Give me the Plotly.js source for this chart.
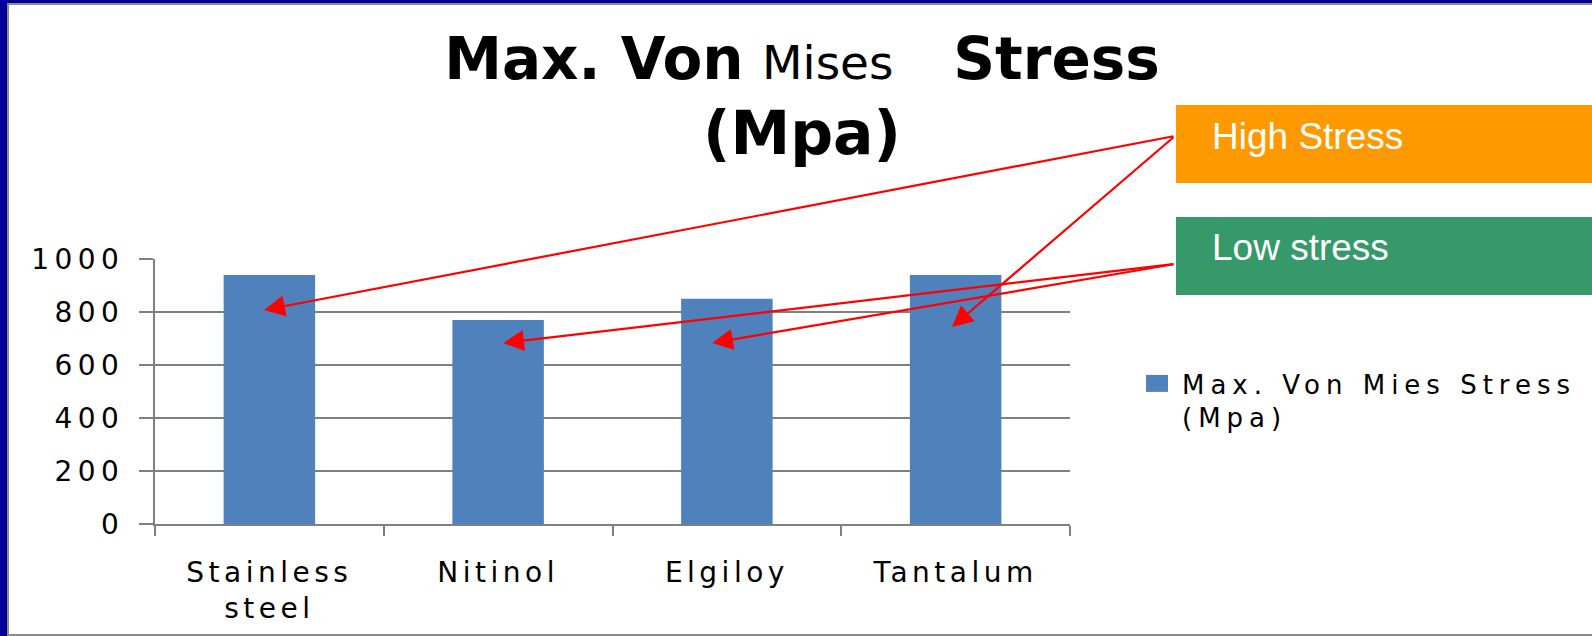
<!DOCTYPE html>
<html>
<head>
<meta charset="utf-8">
<script src="https://cdn.plot.ly/plotly-3.0.1.min.js"></script>
<style>
  html, body { margin: 0; padding: 0; background: #ffffff; }
  #chart { width: 1592px; height: 636px; }
  .xtick text { letter-spacing: 4.5px; }
  .ytick text { letter-spacing: 5.5px; }
  .legendtext { letter-spacing: 6px; }
</style>
</head>
<body>
<div id="chart"></div>
<script>
// ---------------- data ----------------
const categories = ['Stainless<br>steel', 'Nitinol', 'Elgiloy', 'Tantalum'];
const stressValues = [940, 770, 850, 940];
const seriesName = 'Max. Von Mies Stress<br>(Mpa)';
const yTickValues = [0, 200, 400, 600, 800, 1000];
const yTickLabels = ['0', '200', '400', '600', '800', '1000'];
const calloutLabels = ['High Stress', 'Low stress'];
// which categories each callout points at
const highStressCategories = [0, 3];
const lowStressCategories = [1, 2];

// ---------------- layout geometry (pixels) ----------------
const W = 1592, H = 636;
const plotL = 155, plotR = 1070, plotT = 259, plotB = 524;
const yMax = 1000;
const nCat = categories.length;
const catW = (plotR - plotL) / nCat;

// pixel -> paper / data helpers
const pxX = x => (x - plotL) / (plotR - plotL);
const pxY = y => (plotB - y) / (plotB - plotT);
const dataX = x => (x - plotL) / catW - 0.5;
const dataY = y => (plotB - y) / (plotB - plotT) * yMax;

// arrow tips (pixel positions inside the bars) and callout anchors
const tipPx = {0: [264, 310], 1: [503, 343], 2: [712, 343], 3: [952, 327]};
const highAnchor = [1175, 136];
const lowAnchor = [1175, 264];

const annotations = [];
function arrow(cat, anchor) {
  const t = tipPx[cat];
  annotations.push({
    xref: 'x', yref: 'y', axref: 'x', ayref: 'y',
    x: dataX(t[0]), y: dataY(t[1]),
    ax: dataX(anchor[0]), ay: dataY(anchor[1]),
    text: '', showarrow: true,
    arrowhead: 2, arrowsize: 1.9, arrowwidth: 2.2, arrowcolor: '#FF0000',
    standoff: 0, startstandoff: 0
  });
}
highStressCategories.forEach(c => arrow(c, highAnchor));
lowStressCategories.forEach(c => arrow(c, lowAnchor));

// callout texts
annotations.push({
  xref: 'paper', yref: 'paper', x: pxX(1210), y: pxY(136), xanchor: 'left', yanchor: 'middle',
  text: calloutLabels[0], showarrow: false,
  font: {family: 'Liberation Sans, Arial, sans-serif', size: 37, color: '#ffffff'}
});
annotations.push({
  xref: 'paper', yref: 'paper', x: pxX(1210), y: pxY(247), xanchor: 'left', yanchor: 'middle',
  text: calloutLabels[1], showarrow: false,
  font: {family: 'Liberation Sans, Arial, sans-serif', size: 37, color: '#ffffff'}
});

const rect = (x0, y0, x1, y1, color, layer) => ({
  type: 'rect', xref: 'paper', yref: 'paper',
  x0: pxX(x0), x1: pxX(x1), y0: pxY(y1), y1: pxY(y0),
  fillcolor: color, line: {width: 0}, layer: layer || 'above'
});

const shapes = [
  // frame
  rect(0, 0, 7, H, '#000099'),
  rect(7, 3, 9, H, '#8c8c8c'),
  rect(0, 0, W, 3, '#000099'),
  rect(7, 3, W, 5, '#8c8c8c'),
  rect(7, H - 2, W, H, '#8c8c8c'),
  // callout boxes
  rect(1176, 105, W + 2, 183, '#FF9900'),
  rect(1176, 217, W + 2, 295, '#35996A')
];

const trace = {
  type: 'bar',
  x: categories,
  y: stressValues,
  name: seriesName,
  marker: {color: '#4F81BD', line: {width: 0}},
  showlegend: true,
  hoverinfo: 'skip'
};

const axisGray = '#808080';
const tickFont = {family: 'DejaVu Sans, sans-serif', size: 28, color: '#000000'};

const titleText =
  '<b>Max. Von</b> <span style="font-size:47px">Mises\u00a0\u00a0\u00a0\u00a0</span><b>Stress</b>' +
  '<br><span style="font-size:60px"><b>(Mpa)</b></span>';

const layout = {
  width: W, height: H,
  paper_bgcolor: '#ffffff', plot_bgcolor: '#ffffff',
  margin: {l: plotL, r: W - plotR, t: plotT, b: H - plotB, pad: 0, autoexpand: false},
  bargap: 0.6,
  title: {
    text: titleText,
    font: {family: 'DejaVu Sans, sans-serif', size: 58, color: '#000000'},
    x: 802 / W, xanchor: 'center', xref: 'container',
    y: 1 - 79 / H, yanchor: 'top', yref: 'container'
  },
  xaxis: {
    type: 'category', range: [-0.5, nCat - 0.5],
    tickson: 'boundaries', ticks: 'outside', ticklen: 10, tickwidth: 2, tickcolor: axisGray,
    showline: true, linecolor: axisGray, linewidth: 2,
    showgrid: false, zeroline: false, automargin: false,
    tickfont: tickFont, ticklabelstandoff: 22, fixedrange: true
  },
  yaxis: {
    range: [0, yMax], tickvals: yTickValues, ticktext: yTickLabels,
    ticks: 'outside', ticklen: 14, tickwidth: 2, tickcolor: axisGray,
    showline: true, linecolor: axisGray, linewidth: 2,
    showgrid: true, gridcolor: axisGray, gridwidth: 2.5, zeroline: false, automargin: false,
    tickfont: tickFont, ticklabelstandoff: 9, fixedrange: true
  },
  showlegend: true,
  legend: {
    x: pxX(1132), xanchor: 'left', y: pxY(360), yanchor: 'top',
    valign: 'top', itemwidth: 40, bgcolor: 'rgba(0,0,0,0)', borderwidth: 0,
    font: {family: 'DejaVu Sans, sans-serif', size: 26, color: '#000000'}
  },
  shapes: shapes,
  annotations: annotations
};

Plotly.newPlot('chart', [trace], layout, {displayModeBar: false, staticPlot: true}).then(gd => {
  // enlarge the legend swatch to match the reference
  gd.querySelectorAll('.legendpoints path').forEach(p => p.setAttribute('d', 'M11,8.5H-11V-8.5H11Z'));
});
</script>
</body>
</html>
